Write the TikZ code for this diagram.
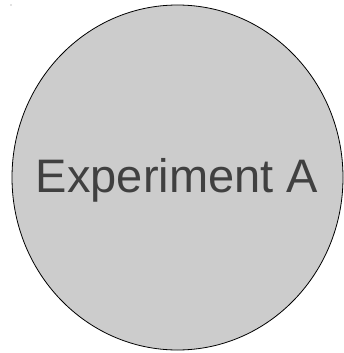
\documentclass[tikz,border=0pt]{standalone}
\usepackage{fontspec}
\setmainfont{Liberation Sans}
\definecolor{expfill}{HTML}{CCCCCC}
\definecolor{exptext}{HTML}{404040}
\begin{document}
\begin{tikzpicture}[x=1pt, y=-1pt]
                    \useasboundingbox (0,0) rectangle (344,353);
                    
                    % Experiment
                    \draw[line width=0.8pt, fill=expfill] (177.5,177.5) ellipse (165.5pt and 172.5pt);
                    \node[exptext, font=\fontsize{47}{56}\selectfont, inner sep=0pt] (expA) at (177,180) {Experiment A};
                    
                    % stray mark
                    \fill[gray] (11,5) circle (0.6pt);
                \end{tikzpicture}
\end{document}
